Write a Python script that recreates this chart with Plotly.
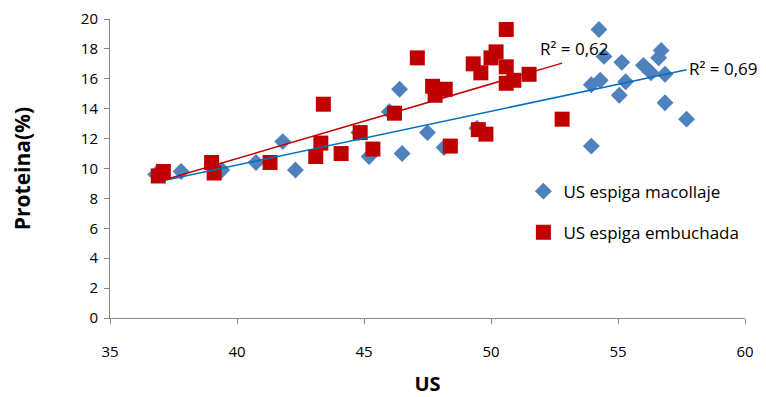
import numpy as np
import plotly.graph_objects as go

# US espiga macollaje (blue diamonds)
mac_x = [36.8, 37.8, 39.4, 40.75, 41.8, 42.3, 44.8, 45.2, 46.0, 46.4, 46.5, 47.5, 48.15, 49.45,
         53.95, 53.95, 54.3, 54.25, 54.45, 55.05, 55.15, 55.3, 56.0, 56.3, 56.6, 56.7, 56.85, 56.85, 57.7]
mac_y = [9.6, 9.8, 9.9, 10.4, 11.8, 9.9, 12.4, 10.8, 13.8, 15.3, 11.0, 12.4, 11.4, 12.7,
         11.5, 15.6, 15.9, 19.3, 17.5, 14.9, 17.1, 15.8, 16.9, 16.4, 17.4, 17.9, 16.3, 14.4, 13.3]

# US espiga embuchada (red squares)
emb_x = [36.9, 37.1, 39.0, 39.1, 41.3, 43.1, 43.3, 43.4, 44.1, 44.85, 45.35, 46.2, 47.1, 47.7,
         47.8, 48.2, 48.4, 49.3, 49.6, 49.5, 49.8, 50.0, 50.2, 50.6, 50.6, 50.6, 50.9, 51.5, 52.8]
emb_y = [9.5, 9.8, 10.4, 9.7, 10.4, 10.8, 11.7, 14.3, 11.0, 12.4, 11.3, 13.7, 17.4, 15.5,
         14.9, 15.3, 11.5, 17.0, 16.4, 12.6, 12.3, 17.4, 17.8, 19.3, 16.8, 15.7, 15.9, 16.3, 13.3]

# Trendline end points
mac_trend_x = [36.85, 57.7]
mac_trend_y = [9.1, 16.6]
emb_trend_x = [36.85, 52.8]
emb_trend_y = [9.1, 17.05]

mac_r2 = "R² = 0,69"
emb_r2 = "R² = 0,62"

x_ticks = [35, 40, 45, 50, 55, 60]
y_ticks = [0, 2, 4, 6, 8, 10, 12, 14, 16, 18, 20]

FONT = "Open Sans"
BLUE = "#4F81BD"
RED = "#C00000"
LINE_BLUE = "#0070C0"
AXIS = "#868686"

fig = go.Figure()
fig.add_trace(go.Scatter(x=mac_x, y=mac_y, mode="markers", name="US espiga macollaje",
                         legendgroup="a",
                         marker=dict(symbol="diamond", size=13, color=BLUE, line=dict(width=0))))
fig.add_trace(go.Scatter(x=emb_x, y=emb_y, mode="markers", name="US espiga embuchada",
                         legendgroup="b",
                         marker=dict(symbol="square", size=15, color=RED, line=dict(width=0))))
fig.add_trace(go.Scatter(x=mac_trend_x, y=mac_trend_y, mode="lines", showlegend=False,
                         line=dict(color=LINE_BLUE, width=1.5), hoverinfo="skip"))
fig.add_trace(go.Scatter(x=emb_trend_x, y=emb_trend_y, mode="lines", showlegend=False,
                         line=dict(color=RED, width=1.5), hoverinfo="skip"))

fig.add_annotation(x=mac_trend_x[1], y=mac_trend_y[1], text=mac_r2, showarrow=False,
                   xanchor="left", yanchor="middle", xshift=0, yshift=1,
                   font=dict(family=FONT, size=17, color="#000000"))
fig.add_annotation(x=emb_trend_x[1], y=emb_trend_y[1], text=emb_r2, showarrow=False,
                   xanchor="left", yanchor="middle", xshift=-24, yshift=15,
                   font=dict(family=FONT, size=17, color="#000000"))

# page body has an 8px margin, so the figure is sized/offset to compensate
fig.update_layout(
    width=758, height=389,
    margin=dict(l=102, r=21, t=11, b=79),
    paper_bgcolor="white", plot_bgcolor="white",
    font=dict(family=FONT, size=15, color="#000000"),
    showlegend=True,
    legend=dict(x=0.651, y=0.483, xanchor="left", yanchor="top",
                traceorder="grouped", tracegroupgap=16,
                font=dict(family=FONT, size=17, color="#000000"),
                bgcolor="rgba(0,0,0,0)", itemwidth=30),
    xaxis=dict(range=[35, 60], tickvals=x_ticks, ticks="outside", ticklen=5,
               tickcolor=AXIS, showline=True, linecolor=AXIS, linewidth=1,
               showgrid=False, zeroline=False, ticklabelstandoff=15, automargin=False,
               tickfont=dict(family=FONT, size=15),
               title=dict(text="<b>US</b>", font=dict(family=FONT, size=20), standoff=16)),
    yaxis=dict(range=[0, 20], tickvals=y_ticks, ticks="outside", ticklen=5,
               tickcolor=AXIS, showline=True, linecolor=AXIS, linewidth=1,
               showgrid=False, zeroline=False, ticklabelstandoff=3, automargin=False,
               tickfont=dict(family=FONT, size=15),
               title=dict(text="<b>Proteina(%)</b>", font=dict(family=FONT, size=21), standoff=55)),
)

fig.write_html("out.html")
